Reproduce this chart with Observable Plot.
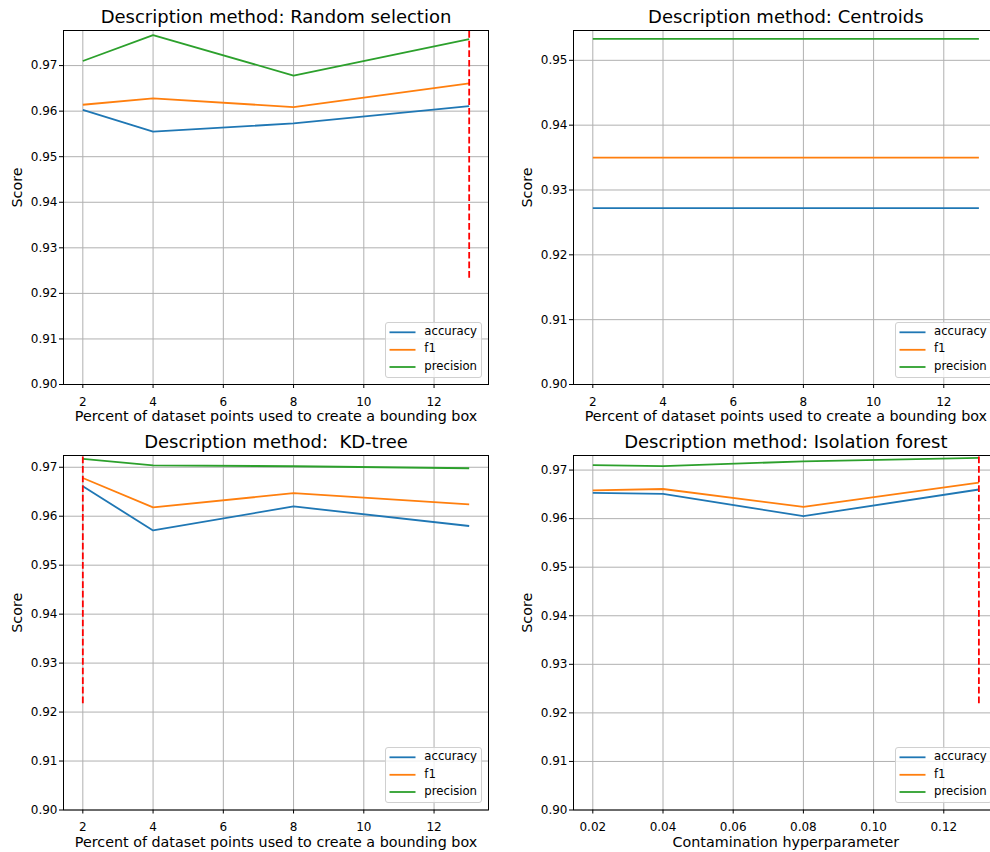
<!DOCTYPE html>
<html>
<head>
<meta charset="utf-8">
<script src="https://cdn.jsdelivr.net/npm/d3@7"></script>
<script src="https://cdn.jsdelivr.net/npm/@observablehq/plot@0.6"></script>
<style>
  html, body { margin: 0; padding: 0; background: #fff; overflow: hidden; }
  #fig { position: relative; width: 990px; height: 852px; overflow: hidden; font-family: "DejaVu Sans", sans-serif; }
  .panel { position: absolute; }
  .legend { position: absolute; width: 97px; height: 56px; box-sizing: border-box;
            border: 1px solid #d0d0d0; border-radius: 3px; background: rgba(255,255,255,0.8);
            font-family: "DejaVu Sans", sans-serif; font-size: 11.7px; color: #000; }
  .legend svg { position: absolute; left: 0; top: 0; overflow: visible; }
  .legend .lb { position: absolute; left: 38px; line-height: 11.7px; white-space: nowrap; }
</style>
</head>
<body>
<div id="fig"></div>
<script>
// ---- data ----
const metrics = ["accuracy", "f1", "precision"];
const metricColors = ["#1f77b4", "#ff7f0e", "#2ca02c"];

const pctX = [2, 4, 8, 13];
const contamX = [0.02, 0.04, 0.08, 0.13];

const rsAccuracy  = [0.9603, 0.9555, 0.9573, 0.9611];
const rsF1        = [0.9614, 0.9628, 0.9609, 0.9661];
const rsPrecision = [0.9710, 0.9767, 0.9678, 0.9758];

const ctAccuracy  = [0.9272, 0.9272, 0.9272, 0.9272];
const ctF1        = [0.9350, 0.9350, 0.9350, 0.9350];
const ctPrecision = [0.9533, 0.9533, 0.9533, 0.9533];

const kdAccuracy  = [0.9661, 0.9571, 0.9620, 0.9580];
const kdF1        = [0.9678, 0.9618, 0.9647, 0.9624];
const kdPrecision = [0.9717, 0.9704, 0.9702, 0.9698];

const ifAccuracy  = [0.9653, 0.9651, 0.9605, 0.9660];
const ifF1        = [0.9658, 0.9661, 0.9624, 0.9674];
const ifPrecision = [0.9710, 0.9708, 0.9718, 0.9725];

const titles = [
  "Description method: Random selection",
  "Description method: Centroids",
  "Description method:  KD-tree",
  "Description method: Isolation forest"
];
const xLabels = [
  "Percent of dataset points used to create a bounding box",
  "Percent of dataset points used to create a bounding box",
  "Percent of dataset points used to create a bounding box",
  "Contamination hyperparameter"
];
const yLabel = "Score";

const pctTicks = [2, 4, 6, 8, 10, 12];
const contamTicks = [0.02, 0.04, 0.06, 0.08, 0.10, 0.12];
const yTicksAll = [0.90, 0.91, 0.92, 0.93, 0.94, 0.95, 0.96, 0.97];

const yTops = [0.9777, 0.9546, 0.9724, 0.9730];
const vlineX = [13, null, 2, 0.13];
const vlineFrac = 0.3;   // axvline ymin
const pctDomain = [1.45, 13.55];
const contamDomain = [0.0145, 0.1355];

// ---- build ----
function rowsFor(xs, acc, f1, prec) {
  const out = [];
  [acc, f1, prec].forEach((vals, k) => vals.forEach((v, i) => out.push({x: xs[i], y: v, metric: metrics[k]})));
  return out;
}

const panels = [
  {rows: rowsFor(pctX, rsAccuracy, rsF1, rsPrecision), xDomain: pctDomain, xTicks: pctTicks, fmt: d => String(d), left: 0, top: 0, w: 495, ml: 63, mr: 7, mt: 30, mb: 41},
  {rows: rowsFor(pctX, ctAccuracy, ctF1, ctPrecision), xDomain: pctDomain, xTicks: pctTicks, fmt: d => String(d), left: 495, top: 0, w: 510, ml: 78, mr: 7.3, mt: 30, mb: 41},
  {rows: rowsFor(pctX, kdAccuracy, kdF1, kdPrecision), xDomain: pctDomain, xTicks: pctTicks, fmt: d => String(d), left: 0, top: 425, w: 495, ml: 63, mr: 7, mt: 30, mb: 40.5},
  {rows: rowsFor(contamX, ifAccuracy, ifF1, ifPrecision), xDomain: contamDomain, xTicks: contamTicks, fmt: d3.format(".2f"), left: 495, top: 425, w: 510, ml: 78, mr: 7.3, mt: 30, mb: 40.5}
];

const fig = document.getElementById("fig");
const NS = "http://www.w3.org/2000/svg";

panels.forEach((p, i) => {
  const yTop = yTops[i];
  const yTicks = yTicksAll.filter(t => t <= yTop + 1e-9);
  const marks = [
    Plot.gridX(p.xTicks, {stroke: "#b0b0b0", strokeOpacity: 1, strokeWidth: 1}),
    Plot.gridY(yTicks, {stroke: "#b0b0b0", strokeOpacity: 1, strokeWidth: 1}),
    Plot.line(p.rows, {x: "x", y: "y", z: "metric", stroke: "metric", strokeWidth: 1.8, strokeLinejoin: "round", strokeLinecap: "butt"})
  ];
  if (vlineX[i] != null) {
    marks.push(Plot.ruleX([vlineX[i]], {
      y1: 0.9 + vlineFrac * (yTop - 0.9), y2: yTop,
      stroke: "#ff0000", strokeWidth: 1.8, strokeDasharray: "6.7,2.9"
    }));
  }
  marks.push(
    Plot.frame({stroke: "#000", strokeWidth: 1}),
    Plot.axisX(p.xTicks, {tickSize: 4, tickPadding: 8.5, tickFormat: p.fmt, label: null, fontSize: 12}),
    Plot.axisY(yTicks, {tickSize: 4, tickPadding: 2, tickFormat: d3.format(".2f"), label: null, fontSize: 12}),
    Plot.text([titles[i]], {frameAnchor: "top", lineAnchor: "bottom", dy: -7.2, text: d => d, fontSize: 18, fill: "#000"}),
    Plot.text([xLabels[i]], {frameAnchor: "bottom", lineAnchor: "bottom", dy: 36.8, text: d => d, fontSize: 14.3, fill: "#000"}),
    Plot.text([yLabel], {frameAnchor: "left", lineAnchor: "bottom", rotate: -90, dx: -41.5, text: d => d, fontSize: 14.3, fill: "#000"})
  );
  const chart = Plot.plot({
    width: p.w, height: 425,
    marginLeft: p.ml, marginRight: p.mr, marginTop: p.mt, marginBottom: p.mb,
    x: {domain: p.xDomain},
    y: {domain: [0.9, yTop]},
    color: {domain: metrics, range: metricColors},
    style: {fontFamily: "DejaVu Sans, sans-serif", fontSize: "12px", color: "#000", background: "transparent", overflow: "visible"},
    marks
  });
  chart.classList.add("panel");
  chart.style.left = p.left + "px";
  chart.style.top = p.top + "px";
  fig.appendChild(chart);

  // legend (lower right)
  const frameRight = p.left + p.w - p.mr;
  const frameBottom = p.top + 425 - p.mb;
  const lg = document.createElement("div");
  lg.className = "legend";
  lg.style.left = (frameRight - 5.7 - 97) + "px";
  lg.style.top = (frameBottom - 6.2 - 56) + "px";
  const sv = document.createElementNS(NS, "svg");
  sv.setAttribute("width", "97");
  sv.setAttribute("height", "56");
  lg.appendChild(sv);
  const rowY = [10.3, 27.8, 45];
  metrics.forEach((m, k) => {
    const ln = document.createElementNS(NS, "line");
    ln.setAttribute("x1", "3.5");
    ln.setAttribute("x2", "29.5");
    ln.setAttribute("y1", rowY[k] - 1);
    ln.setAttribute("y2", rowY[k] - 1);
    ln.setAttribute("stroke", metricColors[k]);
    ln.setAttribute("stroke-width", "1.8");
    sv.appendChild(ln);
    const lb = document.createElement("div");
    lb.className = "lb";
    lb.textContent = m;
    lb.style.top = (rowY[k] - 7.2) + "px";
    lg.appendChild(lb);
  });
  fig.appendChild(lg);
});
</script>
</body>
</html>
